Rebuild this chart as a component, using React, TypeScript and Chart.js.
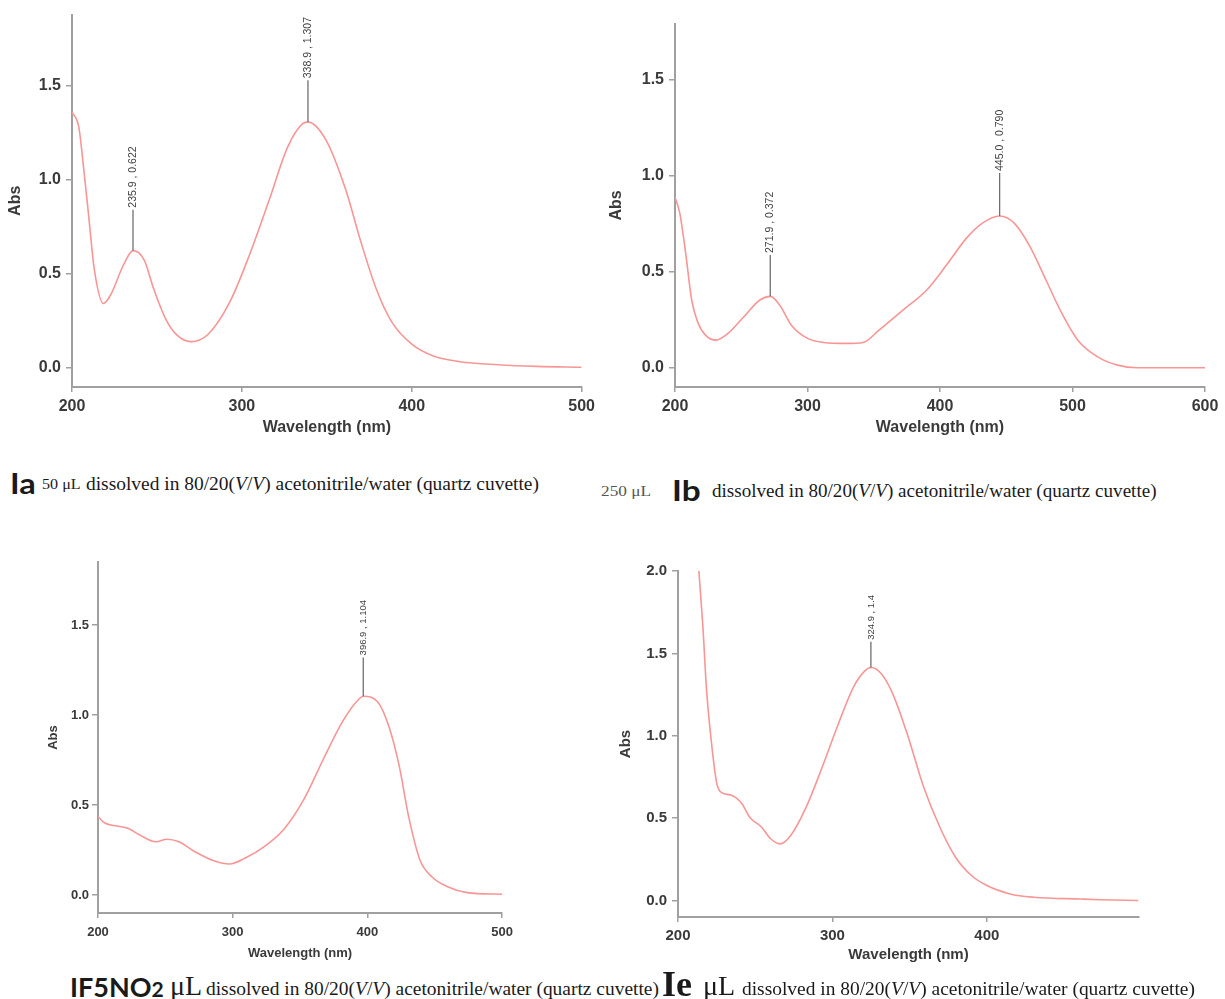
import React, { useEffect, useRef } from "react";
import { Chart, registerables } from "chart.js";

Chart.register(...registerables);

// ---------- Data: Ia ----------
const iaWavelength = [200, 204, 207, 210, 213, 218.5, 223, 230, 236, 242.6, 248, 255, 262, 270, 280, 293, 304.5, 316, 327, 336, 339, 349.6, 361, 370, 379, 388, 400, 412.7, 428.5, 451, 473.6, 500];
const iaAbs = [1.36, 1.28, 1.05, 0.79, 0.53, 0.34, 0.39, 0.54, 0.622, 0.57, 0.42, 0.26, 0.17, 0.137, 0.175, 0.35, 0.6, 0.89, 1.175, 1.3, 1.307, 1.21, 0.95, 0.67, 0.42, 0.245, 0.123, 0.06, 0.03, 0.014, 0.005, 0];
const iaPeakX = [235.9, 338.9];
const iaPeakY = [0.622, 1.307];
const iaPeakTop = [0.84, 1.53];
const iaPeakLabels = ["235.9 , 0.622", "338.9 , 1.307"];

// ---------- Data: Ib ----------
const ibWavelength = [200, 203.6, 208, 212.6, 217, 223, 231, 240, 252, 264, 272, 279, 288, 300, 312, 330, 342, 354, 372, 390, 405, 420, 432, 445, 456, 468, 480, 492, 504, 519, 534, 549, 575, 600];
const ibAbs = [0.89, 0.805, 0.6, 0.353, 0.24, 0.17, 0.144, 0.179, 0.266, 0.353, 0.372, 0.327, 0.22, 0.153, 0.132, 0.127, 0.132, 0.196, 0.3, 0.405, 0.536, 0.675, 0.753, 0.79, 0.753, 0.63, 0.457, 0.283, 0.144, 0.057, 0.014, 0, 0, 0];
const ibPeakX = [271.9, 445.0];
const ibPeakY = [0.372, 0.79];
const ibPeakTop = [0.587, 1.014];
const ibPeakLabels = ["271.9 , 0.372", "445.0 , 0.790"];

// ---------- Data: IF5NO2 ----------
const ifWavelength = [200, 205, 214, 222.5, 231, 243, 251, 260, 272, 286, 297.7, 309, 323.7, 338, 352.6, 367, 381.5, 393, 397, 407.5, 416, 423.7, 430.6, 439, 448, 459.5, 474, 500];
const ifAbs = [0.435, 0.4, 0.383, 0.37, 0.333, 0.296, 0.31, 0.296, 0.24, 0.19, 0.172, 0.204, 0.27, 0.365, 0.528, 0.75, 0.963, 1.083, 1.104, 1.074, 0.935, 0.713, 0.435, 0.194, 0.1, 0.046, 0.013, 0.004];
const ifPeakX = [396.9];
const ifPeakY = [1.104];
const ifPeakTop = [1.32];
const ifPeakLabels = ["396.9 , 1.104"];

// ---------- Data: Ie ----------
const ieWavelength = [213.5, 216, 218.5, 222, 225.4, 230, 235, 241.4, 246.4, 254, 260, 266, 273, 283, 293.4, 303.5, 313.7, 321, 325, 331.5, 339, 349, 359, 369.5, 379.7, 390, 400, 415, 430.5, 461, 473.6, 498];
const ieAbs = [2.0, 1.68, 1.277, 0.93, 0.7, 0.648, 0.638, 0.588, 0.506, 0.446, 0.375, 0.344, 0.395, 0.567, 0.81, 1.064, 1.297, 1.394, 1.414, 1.378, 1.256, 0.994, 0.69, 0.446, 0.263, 0.152, 0.091, 0.04, 0.02, 0.009, 0.005, 0];
const iePeakX = [324.9];
const iePeakY = [1.414];
const iePeakTop = [1.57];
const iePeakLabels = ["324.9 , 1.4"];

// ---------- Tick labels ----------
const xTicks200to500 = [200, 300, 400, 500];
const xTicks200to600 = [200, 300, 400, 500, 600];
const xTicks200to400 = [200, 300, 400];
const yTicksTo15 = [0, 0.5, 1.0, 1.5];
const yTicksTo20 = [0, 0.5, 1.0, 1.5, 2.0];

const CURVE_COLOR = "rgb(248,150,150)";
const AXIS_COLOR = "#a0a0a0";
const TEXT_COLOR = "#3a3a3a";

const peakPlugin = {
  id: "peakMarks",
  afterDatasetsDraw(chart: any, _args: any, opts: any) {
    const { ctx } = chart;
    const xs = chart.scales.x;
    const ys = chart.scales.y;
    const peaks = (opts && opts.peaks) || [];
    peaks.forEach((p: any) => {
      const px = xs.getPixelForValue(p.x);
      const py = ys.getPixelForValue(p.y);
      const ty = ys.getPixelForValue(p.top);
      ctx.save();
      ctx.strokeStyle = "#707070";
      ctx.lineWidth = 1.3;
      ctx.beginPath();
      ctx.moveTo(px, py);
      ctx.lineTo(px, ty);
      ctx.stroke();
      ctx.translate(px, ty - 2);
      ctx.rotate(-Math.PI / 2);
      ctx.font = `${opts.fontSize || 9}px "Liberation Sans", Arial, sans-serif`;
      ctx.fillStyle = "#404040";
      ctx.textAlign = "left";
      ctx.textBaseline = "middle";
      ctx.fillText(p.label, 0, 0);
      ctx.restore();
    });
  },
};

type PanelSpec = {
  left: number;
  top: number;
  width: number;
  height: number;
  yAxisWidth: number;
  xAxisHeight: number;
  padTop: number;
  padRight: number;
  xMin: number;
  xMax: number;
  yMin: number;
  yMax: number;
  xTicks: number[];
  yTicks: number[];
  tickFont: number;
  titleFont: number;
  xTickPad: number;
  yTickPad: number;
  xTitlePadBottom: number;
  yTitlePadTop: number;
  peakFont: number;
  wl: number[];
  abs: number[];
  peakX: number[];
  peakY: number[];
  peakTop: number[];
  peakLabels: string[];
};

function Panel({ spec }: { spec: PanelSpec }) {
  const ref = useRef<HTMLCanvasElement | null>(null);
  useEffect(() => {
    if (!ref.current) return;
    const points = spec.wl.map((w, i) => ({ x: w, y: spec.abs[i] }));
    const peaks = spec.peakX.map((x, i) => ({ x, y: spec.peakY[i], top: spec.peakTop[i], label: spec.peakLabels[i] }));
    const tickFont = { family: '"Liberation Sans", Arial, sans-serif', size: spec.tickFont, weight: "bold" as const };
    const titleFont = { family: '"Liberation Sans", Arial, sans-serif', size: spec.titleFont, weight: "bold" as const };
    const chart = new Chart(ref.current, {
      type: "line",
      data: {
        datasets: [
          {
            data: points,
            borderColor: CURVE_COLOR,
            borderWidth: 1.6,
            pointRadius: 0,
            fill: false,
            cubicInterpolationMode: "monotone",
          },
        ],
      },
      options: {
        animation: false,
        responsive: false,
        events: [],
        layout: { padding: { left: 0, top: spec.padTop, right: spec.padRight, bottom: 0 } },
        plugins: {
          legend: { display: false },
          tooltip: { enabled: false },
          peakMarks: { peaks, fontSize: spec.peakFont },
        } as any,
        scales: {
          x: {
            type: "linear",
            min: spec.xMin,
            max: spec.xMax,
            afterBuildTicks: (s: any) => {
              s.ticks = spec.xTicks.map((v) => ({ value: v }));
            },
            afterFit: (s: any) => {
              s.height = spec.xAxisHeight;
            },
            ticks: {
              font: tickFont,
              color: TEXT_COLOR,
              padding: spec.xTickPad,
              maxRotation: 0,
              autoSkip: false,
              callback: (v: any) => String(v),
            },
            grid: { display: true, drawOnChartArea: false, drawTicks: true, tickLength: 5, color: AXIS_COLOR, lineWidth: 1.5 },
            border: { display: true, color: AXIS_COLOR, width: 2 },
            title: {
              display: true,
              text: "Wavelength (nm)",
              font: titleFont,
              color: TEXT_COLOR,
              padding: { top: 0, bottom: spec.xTitlePadBottom },
            },
          },
          y: {
            type: "linear",
            min: spec.yMin,
            max: spec.yMax,
            afterBuildTicks: (s: any) => {
              s.ticks = spec.yTicks.map((v) => ({ value: v }));
            },
            afterFit: (s: any) => {
              s.width = spec.yAxisWidth;
            },
            ticks: {
              font: tickFont,
              color: TEXT_COLOR,
              padding: spec.yTickPad,
              callback: (v: any) => Number(v).toFixed(1),
            },
            grid: { display: true, drawOnChartArea: false, drawTicks: true, tickLength: 6, color: AXIS_COLOR, lineWidth: 1.5 },
            border: { display: true, color: AXIS_COLOR, width: 2 },
            title: {
              display: true,
              text: "Abs",
              font: titleFont,
              color: TEXT_COLOR,
              padding: { top: spec.yTitlePadTop, bottom: 0 },
            },
          },
        },
      },
      plugins: [peakPlugin],
    });
    return () => chart.destroy();
  }, [spec]);
  return (
    <canvas
      ref={ref}
      width={spec.width}
      height={spec.height}
      style={{ position: "absolute", left: spec.left, top: spec.top, width: spec.width, height: spec.height }}
    />
  );
}

const panelIa: PanelSpec = {
  left: 0, top: 0, width: 600, height: 445,
  yAxisWidth: 72, xAxisHeight: 58, padTop: 10, padRight: 18,
  xMin: 200, xMax: 500, yMin: -0.105, yMax: 1.88,
  xTicks: xTicks200to500, yTicks: yTicksTo15,
  tickFont: 16, titleFont: 16, xTickPad: 5, yTickPad: 5, xTitlePadBottom: 8, yTitlePadTop: 6,
  peakFont: 10.5,
  wl: iaWavelength, abs: iaAbs, peakX: iaPeakX, peakY: iaPeakY, peakTop: iaPeakTop, peakLabels: iaPeakLabels,
};

const panelIb: PanelSpec = {
  left: 600, top: 0, width: 625, height: 445,
  yAxisWidth: 75, xAxisHeight: 58, padTop: 24, padRight: 20,
  xMin: 200, xMax: 600, yMin: -0.1, yMax: 1.79,
  xTicks: xTicks200to600, yTicks: yTicksTo15,
  tickFont: 16, titleFont: 16, xTickPad: 5, yTickPad: 5, xTitlePadBottom: 8, yTitlePadTop: 7,
  peakFont: 10.5,
  wl: ibWavelength, abs: ibAbs, peakX: ibPeakX, peakY: ibPeakY, peakTop: ibPeakTop, peakLabels: ibPeakLabels,
};

const panelIf: PanelSpec = {
  left: 30, top: 540, width: 490, height: 430,
  yAxisWidth: 68, xAxisHeight: 57, padTop: 22, padRight: 17,
  xMin: 200, xMax: 500, yMin: -0.1, yMax: 1.85,
  xTicks: xTicks200to500, yTicks: yTicksTo15,
  tickFont: 13, titleFont: 13, xTickPad: 7, yTickPad: 3, xTitlePadBottom: 9, yTitlePadTop: 16,
  peakFont: 9.5,
  wl: ifWavelength, abs: ifAbs, peakX: ifPeakX, peakY: ifPeakY, peakTop: ifPeakTop, peakLabels: ifPeakLabels,
};

const panelIe: PanelSpec = {
  left: 610, top: 540, width: 545, height: 430,
  yAxisWidth: 68, xAxisHeight: 53, padTop: 31, padRight: 16,
  xMin: 200, xMax: 498.5, yMin: -0.1, yMax: 2.0,
  xTicks: xTicks200to400, yTicks: yTicksTo20,
  tickFont: 15, titleFont: 15, xTickPad: 5, yTickPad: 5, xTitlePadBottom: 6, yTitlePadTop: 7,
  peakFont: 9.5,
  wl: ieWavelength, abs: ieAbs, peakX: iePeakX, peakY: iePeakY, peakTop: iePeakTop, peakLabels: iePeakLabels,
};

const SERIF = '"Liberation Serif", "Times New Roman", serif';
const SANS_BOLD = 'Lato, "Open Sans", sans-serif';

function Piece({ left, baseline, size, family, weight, color, children, sx }: any) {
  return (
    <span
      style={{
        position: "absolute",
        left,
        top: baseline - 0.84 * size,
        fontSize: size,
        lineHeight: `${size}px`,
        fontFamily: family,
        fontWeight: weight || "normal",
        color: color || "#1a1a1a",
        whiteSpace: "nowrap",
        transform: sx ? `scaleX(${sx})` : undefined,
        transformOrigin: "left center",
      }}
    >
      {children}
    </span>
  );
}

function Solvent() {
  return (
    <>
      dissolved in 80/20(<i>V</i>/<i>V</i>) acetonitrile/water (quartz cuvette)
    </>
  );
}

export default function App() {
  return (
    <div style={{ position: "absolute", left: 0, top: 0, width: 1225, height: 999, background: "#fff", overflow: "hidden" }}>
      <Panel spec={panelIa} />
      <Panel spec={panelIb} />
      <Panel spec={panelIf} />
      <Panel spec={panelIe} />

      {/* Ia caption */}
      <Piece left={10} baseline={492} size={29} family={SANS_BOLD} weight="bold" sx={1.12}>Ia</Piece>
      <Piece left={42} baseline={490} size={14} family={SERIF} sx={1.15}>50 μL</Piece>
      <Piece left={86} baseline={490} size={18} family={SERIF} sx={1.08}><Solvent /></Piece>

      {/* Ib caption */}
      <Piece left={601} baseline={497} size={15} family={SERIF} color="#555" sx={1.15}>250 μL</Piece>
      <Piece left={672} baseline={499} size={29} family={SANS_BOLD} weight="bold" sx={1.15}>Ib</Piece>
      <Piece left={712} baseline={497} size={18} family={SERIF} sx={1.06}><Solvent /></Piece>

      {/* IF5NO2 caption */}
      <Piece left={70} baseline={996} size={27} family={SANS_BOLD} weight="bold">
        IF5NO<span style={{ fontSize: 21 }}>2</span>
      </Piece>
      <Piece left={170} baseline={996} size={28} family={SERIF}>μL</Piece>
      <Piece left={206} baseline={995} size={18} family={SERIF} sx={1.08}><Solvent /></Piece>

      {/* Ie caption */}
      <Piece left={662} baseline={996} size={36} family={SERIF} weight="bold">Ie</Piece>
      <Piece left={703} baseline={996} size={28} family={SERIF}>μL</Piece>
      <Piece left={742} baseline={995} size={18} family={SERIF} sx={1.08}><Solvent /></Piece>
    </div>
  );
}
